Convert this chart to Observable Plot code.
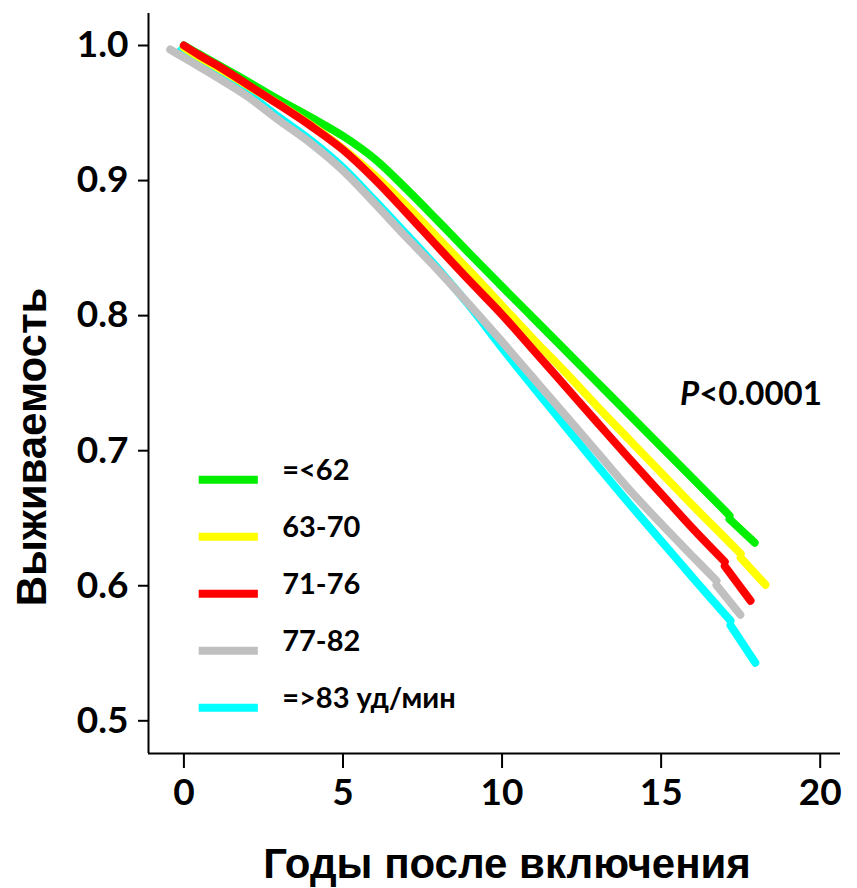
<!DOCTYPE html>
<html><head><meta charset="utf-8">
<script src="https://cdn.jsdelivr.net/npm/d3@7"></script>
<script src="https://cdn.jsdelivr.net/npm/@observablehq/plot@0.6"></script>
<style>body{margin:0;background:#fff}</style>
</head><body><div id="chart"></div>
<script>
const seriesNames = ["=<62", "63-70", "71-76", "77-82", "=>83 уд/мин"];
const seriesColors = ["#00ee00", "#ffff00", "#ff0000", "#c0c0c0", "#00ffff"];
const xTicks = [0, 5, 10, 15, 20];
const yTicks = [0.5, 0.6, 0.7, 0.8, 0.9, 1.0];
const xTitle = "Годы после включения";
const yTitle = "Выживаемость";
const pText = "<0.0001";

const tGreen = [0, 0.5, 1, 2, 3, 4, 5, 6, 7, 8, 9, 10, 11, 12, 13, 14, 15, 16, 17, 17.15, 17.15, 17.94];
const sGreen = [1.0, 0.9933, 0.9867, 0.9733, 0.9596, 0.9467, 0.9330, 0.9160, 0.8937, 0.8698, 0.8454, 0.8215, 0.7978, 0.7741, 0.7504, 0.7267, 0.7030, 0.6793, 0.6556, 0.6519, 0.6493, 0.6319];
const tYellow = [0, 0.5, 1, 2, 3, 4, 5, 6, 7, 8, 9, 10, 11, 12, 13, 14, 15, 16, 17, 17.5, 17.5, 18.28];
const sYellow = [0.9985, 0.9911, 0.9844, 0.9704, 0.9563, 0.9410, 0.9237, 0.9037, 0.8815, 0.857, 0.8326, 0.8074, 0.7822, 0.7578, 0.7326, 0.7081, 0.6837, 0.6593, 0.6356, 0.6237, 0.6207, 0.6007];
const tRed = [0, 0.5, 1, 2, 3, 4, 5, 6, 7, 8, 9, 10, 11, 12, 13, 14, 15, 16, 17, 17, 17.81];
const sRed = [1.0, 0.9926, 0.9859, 0.9711, 0.9560, 0.9403, 0.9228, 0.9008, 0.8760, 0.8504, 0.8252, 0.8007, 0.7741, 0.7474, 0.7207, 0.6941, 0.6681, 0.6422, 0.6178, 0.6145, 0.5889];
const tGray = [-0.43, 0, 0.5, 1, 2, 3, 4, 5, 6, 7, 8, 9, 10, 11, 12, 13, 14, 15, 16, 16.74, 16.74, 17.49];
const sGray = [0.997, 0.991, 0.984, 0.977, 0.9622, 0.9444, 0.9274, 0.9074, 0.883, 0.8578, 0.8333, 0.8074, 0.7807, 0.7533, 0.7259, 0.6985, 0.6711, 0.6459, 0.6215, 0.6037, 0.6004, 0.5785];
const tCyan = [-0.1, 0, 0.5, 1, 2, 3, 4, 5, 6, 7, 8, 9, 10, 11, 12, 13, 14, 15, 16, 17.18, 17.18, 17.96];
const sCyan = [0.9963, 0.9948, 0.9896, 0.9793, 0.9644, 0.9467, 0.9296, 0.9096, 0.8852, 0.8600, 0.8345, 0.8065, 0.7760, 0.7467, 0.7178, 0.6889, 0.6607, 0.6333, 0.6059, 0.5741, 0.5707, 0.543];

const allT = [tGreen, tYellow, tRed, tGray, tCyan];
const allS = [sGreen, sYellow, sRed, sGray, sCyan];
const rows = [];
allT.forEach((ts, k) => {
  let seg = 0;
  ts.forEach((t, i) => {
    if (i > 0 && t === ts[i - 1]) seg++;
    rows.push({series: seriesNames[k], k, seg: k * 10 + seg, t, s: allS[k][i]});
  });
});
const drawOrder = [4, 3, 0, 1, 2];

const xDomain = [-1.113, 20.638];
const yDomain = [0.4758, 1.0237];
const legendItems = seriesNames.map((name, i) => ({name, color: seriesColors[i], i}));
const legY = d => 0.67852 - d.i * 0.04222;

const plot = Plot.plot({
  width: 857, height: 888,
  marginLeft: 148, marginRight: 17, marginTop: 13, marginBottom: 135,
  x: {domain: xDomain},
  y: {domain: yDomain},
  style: {fontFamily: "Lato, sans-serif", background: "white", color: "black"},
  marks: [
    Plot.ruleX([xDomain[0]], {strokeWidth: 2, stroke: "black"}),
    Plot.ruleY([yDomain[0]], {strokeWidth: 2, stroke: "black"}),
    Plot.axisX({ticks: xTicks, tickSize: 15, tickPadding: 10, fontSize: 37, fontWeight: "bold", strokeWidth: 2, label: null}),
    Plot.axisY({ticks: yTicks, tickSize: 10, tickPadding: 10, tickFormat: d3.format(".1f"), fontSize: 37, fontWeight: "bold", strokeWidth: 2, label: null}),
    ...drawOrder.map(k => Plot.line(rows.filter(r => r.k === k), {
      x: "t", y: "s", z: "seg", stroke: seriesColors[k], strokeWidth: 8, curve: "catmull-rom", strokeLinecap: "round", strokeLinejoin: "round"
    })),
    Plot.ruleY(legendItems, {y: legY, x1: 0.48, x2: 2.34, stroke: d => d.color, strokeWidth: 8}),
    Plot.text(legendItems, {y: legY, x: 3.09, text: "name", textAnchor: "start", lineAnchor: "bottom", fontSize: 29, fontWeight: "bold", fill: "black"})
  ]
});
document.getElementById("chart").appendChild(plot);

const svg = d3.select(plot.tagName.toLowerCase() === "svg" ? plot : plot.querySelector("svg"));
const sx = plot.scale("x"), sy = plot.scale("y");
const p = svg.append("text")
  .attr("x", sx.apply(15.61)).attr("y", sy.apply(0.7333))
  .attr("text-anchor", "start")
  .attr("font-family", "Lato, sans-serif").attr("font-size", 33).attr("font-weight", "bold").attr("fill", "black");
p.append("tspan").attr("font-style", "italic").text("P");
p.append("tspan").text(pText);

svg.append("text")
  .attr("transform", "translate(46,447) rotate(-90)")
  .attr("text-anchor", "middle")
  .attr("font-family", "'Liberation Sans', Arial, sans-serif").attr("font-size", 42).attr("font-weight", "bold").attr("fill", "black")
  .text(yTitle);
svg.append("text")
  .attr("x", 507).attr("y", 878)
  .attr("text-anchor", "middle")
  .attr("font-family", "'Liberation Sans', Arial, sans-serif").attr("font-size", 42).attr("font-weight", "bold").attr("fill", "black")
  .text(xTitle);
</script>
</body></html>
